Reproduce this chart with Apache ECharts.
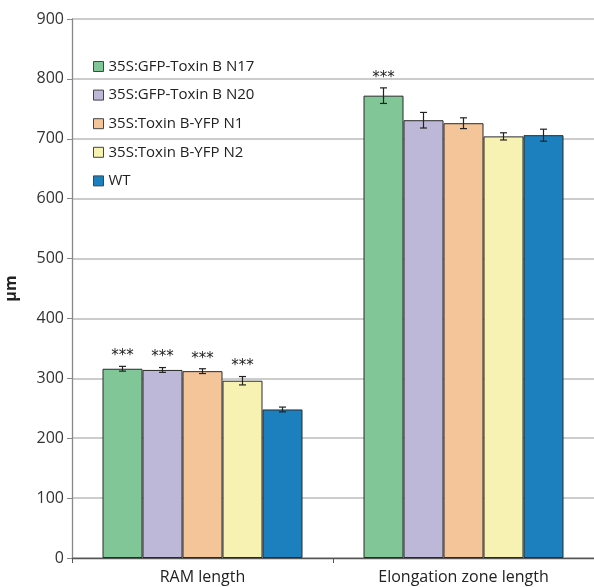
<!DOCTYPE html>
<html><head><meta charset="utf-8">
<script src="https://cdn.jsdelivr.net/npm/echarts@6/dist/echarts.min.js"></script>
<style>html,body{margin:0;padding:0;background:#fff}#c{width:594px;height:587px}</style>
</head><body><div id="c"></div>
<script>
const categories = ['RAM length', 'Elongation zone length'];
const seriesNames = ['35S:GFP-Toxin B N17', '35S:GFP-Toxin B N20', '35S:Toxin B-YFP N1', '35S:Toxin B-YFP N2', 'WT'];
const valN17 = [316, 772];
const valN20 = [314, 731];
const valN1 = [312, 726];
const valN2 = [296, 704];
const valWT = [248, 706];
const errN17 = [4, 13];
const errN20 = [4, 13];
const errN1 = [4, 9];
const errN2 = [7, 6];
const errWT = [4, 10];
const sigN17 = [true, true];
const sigN20 = [true, false];
const sigN1 = [true, false];
const sigN2 = [true, false];
const sigWT = [false, false];
const yTicks = [0, 100, 200, 300, 400, 500, 600, 700, 800, 900];

const colors = ['#80C697', '#BDB8D7', '#F5C59A', '#F7F2B2', '#1C80BF'];
const values = [valN17, valN20, valN1, valN2, valWT];
const errs = [errN17, errN20, errN1, errN2, errWT];
const sigs = [sigN17, sigN20, sigN1, sigN2, sigWT];
const BAR_W = 40;

const barSeries = seriesNames.map((n, i) => ({
  name: n, type: 'bar', data: values[i], barWidth: BAR_W, barGap: '0%',
  itemStyle: { color: colors[i], borderColor: '#2a2a2a', borderWidth: 1 },
  emphasis: { disabled: true }
}));

const errData = [];
values.forEach((vals, s) => vals.forEach((v, c) => errData.push([c, v, errs[s][c], s, sigs[s][c] ? 1 : 0])));

const errSeries = {
  type: 'custom', data: errData, z: 10, silent: true,
  renderItem(params, api) {
    const c = api.value(0), v = api.value(1), e = api.value(2), s = api.value(3), sig = api.value(4);
    const p = api.coord([c, v]);
    const x = p[0] + (s - 2) * BAR_W;
    const yt = api.coord([c, v + e])[1];
    const yb = api.coord([c, v - e])[1];
    const st = { stroke: '#222', lineWidth: 1.2 };
    const ch = [
      { type: 'line', shape: { x1: x, y1: yt, x2: x, y2: yb }, style: st },
      { type: 'line', shape: { x1: x - 3.5, y1: yt, x2: x + 3.5, y2: yt }, style: st },
      { type: 'line', shape: { x1: x - 3.5, y1: yb, x2: x + 3.5, y2: yb }, style: st }
    ];
    if (sig) ch.push({ type: 'text', style: { text: '***', x: x, y: yt - 10, align: 'center', verticalAlign: 'middle', fontSize: 15, fontFamily: 'DejaVu Sans', fill: '#222' } });
    return { type: 'group', children: ch };
  }
};

const chart = echarts.init(document.getElementById('c'));
chart.setOption({
  animation: false,
  grid: { left: 72, top: 19, right: 0, bottom: 29, outerBoundsMode: 'none', containLabel: false },
  legend: {
    orient: 'vertical', left: 88, top: 54, itemWidth: 10, itemHeight: 10, itemGap: 13.6,
    icon: 'rect', data: seriesNames,
    itemStyle: { borderColor: '#444', borderWidth: 1 },
    textStyle: { fontSize: 15, lineHeight: 15, color: '#222', fontFamily: 'Open Sans' }
  },
  xAxis: {
    type: 'category', data: categories,
    axisLine: { lineStyle: { color: '#555', width: 1.3 } },
    axisTick: { show: true, length: 5, lineStyle: { color: '#555' } },
    axisLabel: { fontSize: 16, color: '#222', fontFamily: 'Open Sans', margin: 11 }
  },
  yAxis: {
    type: 'value', min: 0, max: 900, interval: 100,
    name: 'µm', nameLocation: 'middle', nameGap: 53, nameRotate: 90,
    nameTextStyle: { fontSize: 16, fontWeight: 'bold', color: '#222', fontFamily: 'Open Sans' },
    axisLine: { show: true, lineStyle: { color: '#888', width: 1.3 } },
    axisTick: { show: true, length: 5, lineStyle: { color: '#888' } },
    axisLabel: { fontSize: 16, color: '#333', fontFamily: 'Open Sans', margin: 8 },
    splitLine: { lineStyle: { color: '#BBB', width: 1.5 } }
  },
  series: [...barSeries, errSeries]
});
</script></body></html>
